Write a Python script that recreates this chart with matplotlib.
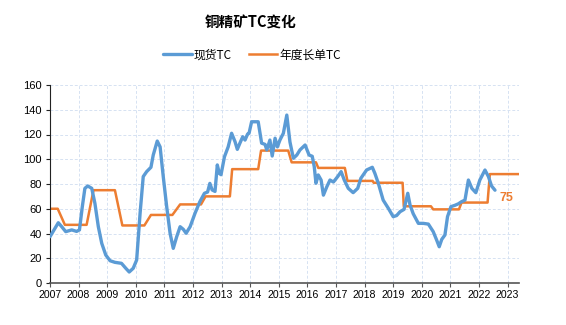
import matplotlib.pyplot as plt
import numpy as np

plt.rcParams['font.family'] = ['Noto Sans CJK SC', 'DejaVu Sans']
plt.rcParams['axes.unicode_minus'] = False

# 现货TC (美元/吨)
spot_t = [2007.0, 2007.29, 2007.41, 2007.55, 2007.76, 2007.93, 2008.03, 2008.13,
          2008.22, 2008.32, 2008.46, 2008.57, 2008.69, 2008.81, 2008.95, 2009.1,
          2009.27, 2009.5, 2009.65, 2009.77, 2009.91, 2010.03, 2010.15, 2010.26,
          2010.38, 2010.53, 2010.61, 2010.75, 2010.85, 2010.96, 2011.08, 2011.2,
          2011.31, 2011.43, 2011.55, 2011.66, 2011.76, 2011.9, 2012.07, 2012.24,
          2012.4, 2012.51, 2012.59, 2012.67, 2012.77, 2012.85, 2012.92, 2012.98,
          2013.1, 2013.23, 2013.35, 2013.47, 2013.55, 2013.64, 2013.74, 2013.82,
          2013.91, 2013.96, 2014.05, 2014.28, 2014.4, 2014.52, 2014.58, 2014.69,
          2014.77, 2014.87, 2014.95, 2015.04, 2015.16, 2015.28, 2015.39, 2015.51,
          2015.63, 2015.74, 2015.92, 2016.06, 2016.17, 2016.24, 2016.3, 2016.38,
          2016.48, 2016.56, 2016.68, 2016.79, 2016.91, 2017.06, 2017.18, 2017.29,
          2017.43, 2017.6, 2017.76, 2017.87, 2018.07, 2018.27, 2018.36, 2018.48,
          2018.65, 2018.83, 2019.0, 2019.12, 2019.24, 2019.38, 2019.51, 2019.59,
          2019.7, 2019.88, 2020.05, 2020.23, 2020.4, 2020.52, 2020.61, 2020.7,
          2020.81, 2020.9, 2021.02, 2021.16, 2021.28, 2021.39, 2021.51, 2021.63,
          2021.75, 2021.89, 2022.03, 2022.21, 2022.33, 2022.44, 2022.56]
spot_tc = [37.4, 48.7, 45.5, 41.5, 42.9, 41.7, 42.9, 61.7,
           76.5, 78.4, 76.5, 64.4, 45.5, 32.0, 22.6, 18.0,
           16.7, 15.9, 11.9, 8.9, 11.9, 18.6, 56.3, 86.0,
           90.0, 93.5, 103.4, 114.7, 110.0, 86.0, 61.7, 40.0,
           28.0, 37.4, 45.5, 43.4, 40.2, 45.5, 56.3, 65.7,
           72.5, 73.5, 80.5, 75.2, 74.0, 95.4, 88.6, 87.5,
           102.0, 110.0, 121.0, 114.2, 108.0, 113.0, 118.2, 115.5,
           120.4, 121.0, 130.3, 130.3, 113.0, 112.0, 107.5, 115.5,
           102.6, 117.0, 110.0, 115.5, 121.0, 135.7, 114.0, 100.8,
           103.4, 107.5, 111.5, 103.4, 102.4, 94.0, 80.6, 87.3,
           83.2, 71.0, 77.8, 83.2, 81.6, 86.0, 90.0, 83.2,
           76.5, 73.0, 76.5, 84.6, 91.3, 93.5, 88.6, 80.6,
           67.0, 60.4, 53.6, 54.5, 57.6, 59.5, 72.5, 63.0,
           56.0, 48.2, 48.2, 47.6, 41.5, 34.7, 29.3, 35.3,
           38.8, 53.6, 61.7, 62.8, 64.0, 65.7, 67.0, 83.2,
           76.5, 73.0, 83.2, 91.3, 86.0, 78.4, 75.0]

# 年度长单TC：每次调价从 change_from 开始，到 change_to 完成
change_from = [2007.27, 2008.28, 2009.27, 2010.30, 2011.28, 2012.28, 2013.29,
               2014.28, 2015.33, 2016.30, 2017.31, 2018.28, 2019.33, 2020.32,
               2021.30, 2022.30]
change_to = [2007.52, 2008.52, 2009.53, 2010.53, 2011.55, 2012.44, 2013.37,
             2014.38, 2015.45, 2016.38, 2017.40, 2018.32, 2019.37, 2020.40,
             2021.39, 2022.38]
bench_tc = [60, 47, 75, 46.5, 55, 63.5, 70, 92, 107, 97.5, 93, 82.5, 81,
            62, 59.5, 65, 88]
bench_start = 2007.0
bench_end = 2023.41
last_label = 75

blue = '#5B9BD5'
orange = '#ED7D31'

fig = plt.figure(figsize=(5.66, 3.25), dpi=100)
ax = fig.add_axes([50 / 566, 1 - 283 / 325, (519.3 - 50) / 566, (283 - 85) / 325])

bx, by = [bench_start], [bench_tc[0]]
for i in range(len(change_from)):
    bx += [change_from[i], change_to[i]]
    by += [bench_tc[i], bench_tc[i + 1]]
bx.append(bench_end)
by.append(bench_tc[-1])

ax.plot(spot_t, spot_tc, color=blue, lw=2.4, solid_joinstyle='round',
        solid_capstyle='round', label='现货TC', zorder=3)
ax.plot(bx, by, color=orange, lw=1.8, label='年度长单TC', zorder=2)

ax.text(2022.96, 69, str(last_label), color=orange, fontsize=9,
        fontweight='bold', ha='center', va='center', family='Liberation Sans')

ax.set_xlim(2007, 2023.41)
ax.set_ylim(0, 160)
ax.set_xticks(np.arange(2007, 2024))
ax.set_yticks(np.arange(0, 161, 20))
ax.set_xticklabels([str(y) for y in range(2007, 2024)], fontsize=7.6,
                   family='Liberation Sans')
ax.set_yticklabels([str(v) for v in range(0, 161, 20)], fontsize=8,
                   family='Liberation Sans')
ax.grid(True, color='#D6E2F2', ls=(0, (3, 2)), lw=0.7)
ax.set_axisbelow(True)
for s in ['top', 'right']:
    ax.spines[s].set_visible(False)
ax.spines['left'].set_color('#222222')
ax.spines['bottom'].set_color('#555555')
ax.spines['bottom'].set_linewidth(1.2)
ax.tick_params(axis='x', length=3, width=0.8, color='#555555', pad=2)
ax.tick_params(axis='y', length=3, width=0.8, color='#222222', pad=3)

fig.text(251 / 566, 1 - 23 / 325, '铜精矿TC变化', ha='center', va='center',
         fontsize=10.5, fontweight='bold')
fig.legend(loc='center', bbox_to_anchor=(252 / 566, 1 - 55 / 325), ncol=2,
           frameon=False, fontsize=8.5, handlelength=2.4, handletextpad=0.2,
           columnspacing=1.4)

fig.savefig('out.png', dpi=100)
